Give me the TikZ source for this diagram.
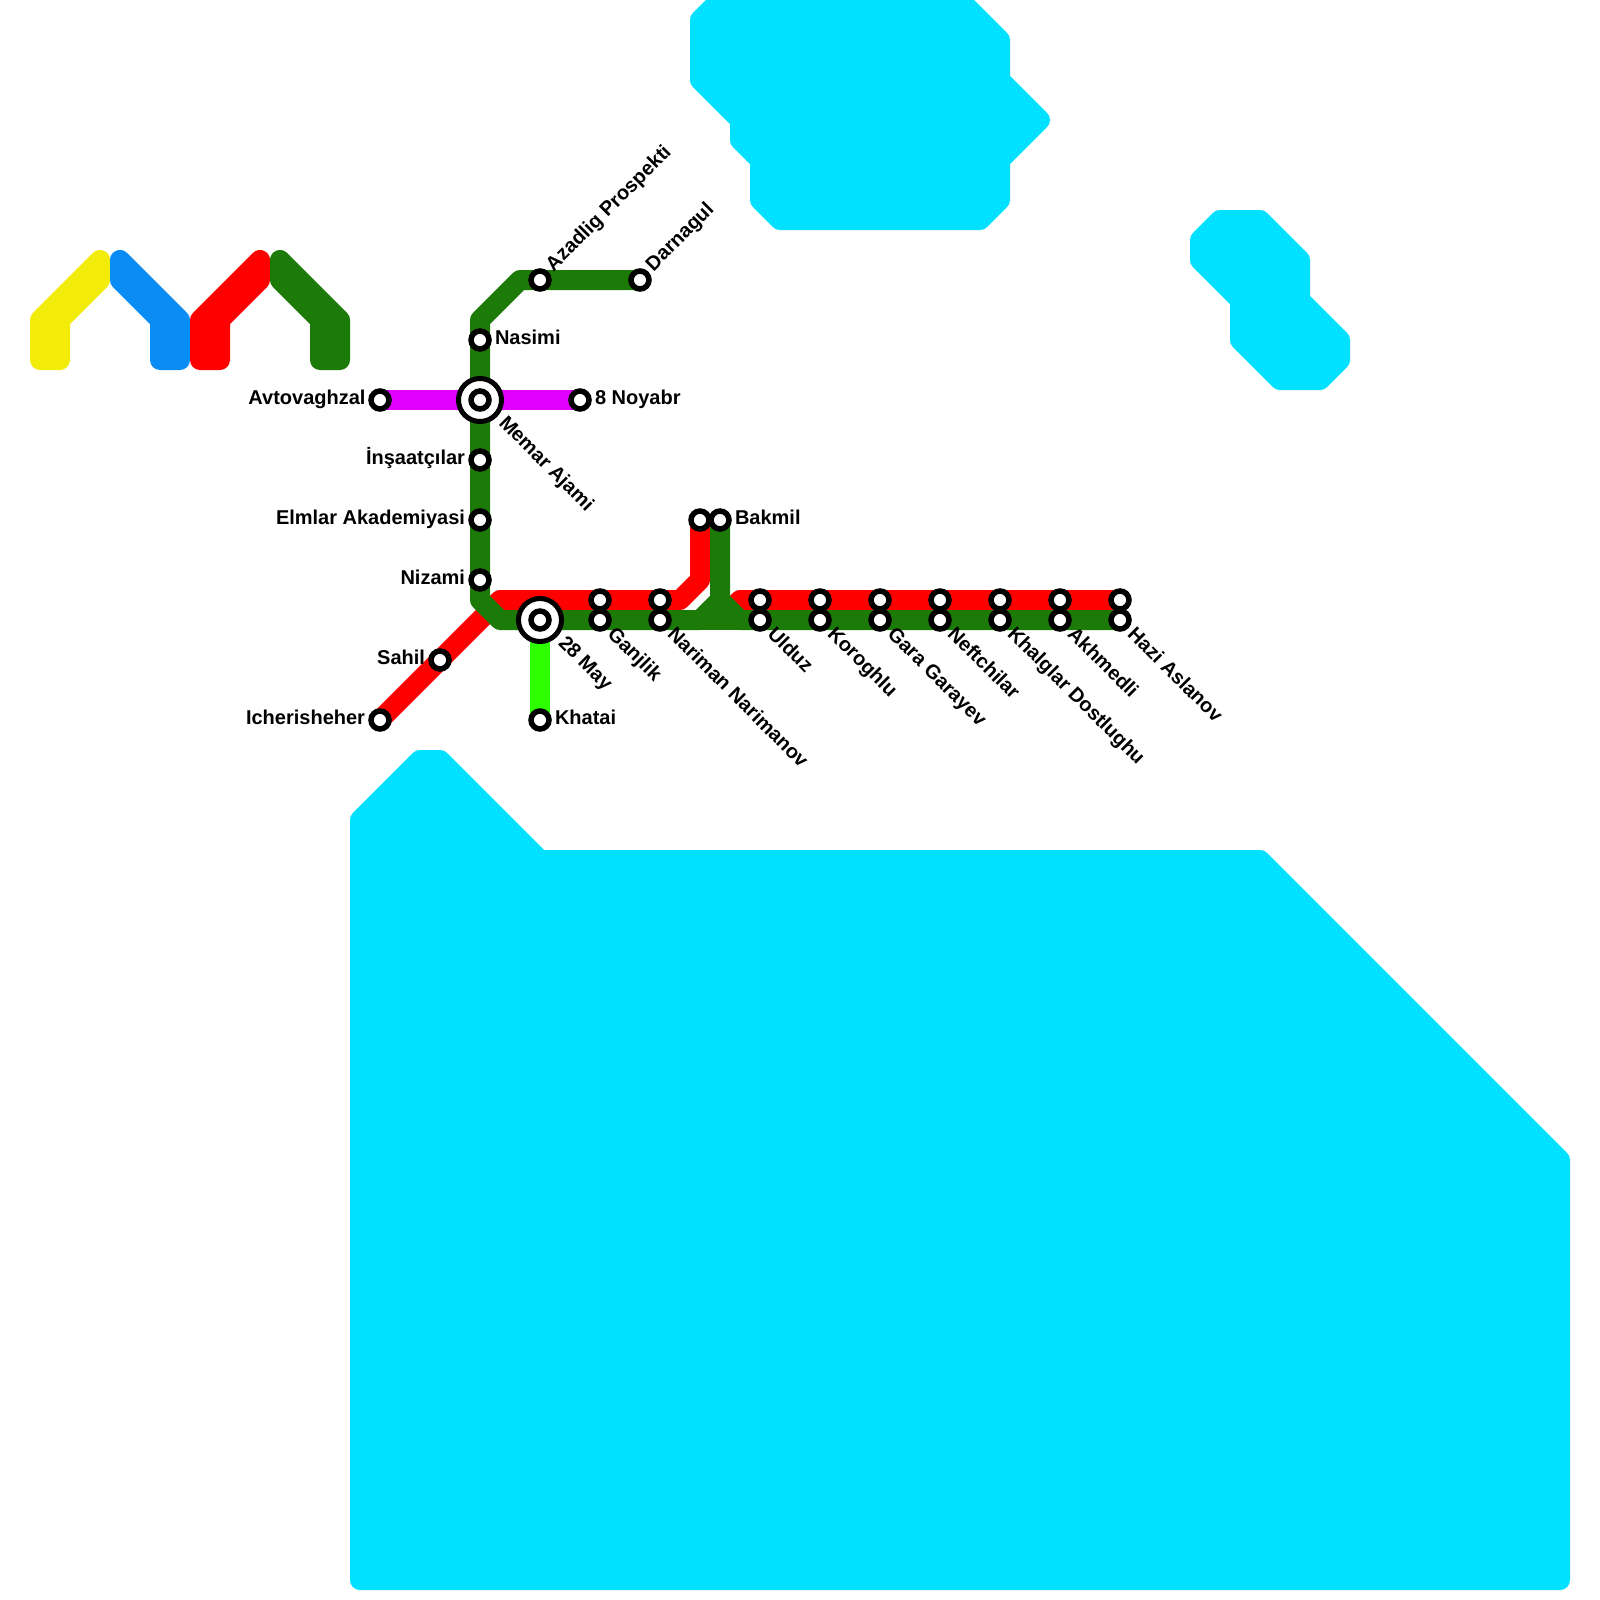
\documentclass[tikz,border=0pt]{standalone}
\usepackage{fontspec}
\setmainfont{Liberation Sans}
\definecolor{lkyellow}{HTML}{F3EC08}
\definecolor{lkblue}{HTML}{0A8CF5}
\definecolor{lkred}{HTML}{FF0000}
\definecolor{lkgreen}{HTML}{1C7A08}
\definecolor{lkwater}{HTML}{00E1FF}
\definecolor{lkpurple}{HTML}{E100FF}
\definecolor{lklime}{HTML}{2DFF00}
\pgfdeclarelayer{waterlayer}
\pgfdeclarelayer{linelayer}
\pgfsetlayers{waterlayer,linelayer,main}
\tikzset{
  x=1pt,y=-1pt,
  water/.style={draw=lkwater,fill=lkwater,line width=20pt,line join=round},
  logo/.style={line width=20pt,line join=round},
  metro/.style={line width=20pt,line join=round},
  stn/.style={circle,draw=black,fill=white,line width=5.5pt,minimum size=18pt,inner sep=0pt,outer sep=0pt},
  hub/.style={circle,draw=black,fill=white,line width=5pt,minimum size=43pt,inner sep=0pt,outer sep=0pt},
  lbl/.style={font=\bfseries\fontsize{20}{22}\selectfont,text=black,inner sep=0pt,outer sep=0pt},
  lblL/.style={lbl,anchor=base east},
  lblR/.style={lbl,anchor=base west},
  lblU/.style={lbl,anchor=base west,rotate=45},
  lblD/.style={lbl,anchor=base west,rotate=-45},
}
\begin{document}
\begin{tikzpicture}
\useasboundingbox (0,0) rectangle (1600,1600);

% interchange rings
\node[hub] (memarRing) at (480,400) {};
\node[hub] (mayRing) at (540,620) {};

% stations
\node[stn] (avto) at (380,400) {};
\node[stn] (nasimi) at (480,340) {};
\node[stn] (azadlig) at (540,280) {};
\node[stn] (darnagul) at (640,280) {};
\node[stn] (memar) at (480,400) {};
\node[stn] (noyabr) at (580,400) {};
\node[stn] (insaat) at (480,460) {};
\node[stn] (elmlar) at (480,520) {};
\node[stn] (nizami) at (480,580) {};
\node[stn] (sahil) at (440,660) {};
\node[stn] (icheri) at (380,720) {};
\node[stn] (may) at (540,620) {};
\node[stn] (khatai) at (540,720) {};
\node[stn] (bakR) at (700,520) {};
\node[stn] (bakG) at (720,520) {};
\foreach \n/\x in {ganjlik/600,nariman/660,ulduz/760,koroglu/820,gara/880,neft/940,khalg/1000,akhm/1060,hazi/1120}{
  \node[stn] (\n R) at (\x,600) {};
  \node[stn] (\n G) at (\x,620) {};
}

% labels
\node[lblL] (tAvto) at (365.5,404.5) {Avtovaghzal};
\node[lblR] (tNasimi) at (495,344.5) {Nasimi};
\node[lblR] (tNoyabr) at (595,404.5) {8 Noyabr};
\node[lblL] (tInsaat) at (465,464.5) {İnşaatçılar};
\node[lblL] (tElmlar) at (465,524.5) {Elmlar Akademiyasi};
\node[lblL] (tNizami) at (465,584.5) {Nizami};
\node[lblL] (tSahil) at (425,664.5) {Sahil};
\node[lblL] (tIcheri) at (365,724.5) {Icherisheher};
\node[lblR] (tKhatai) at (555,724.5) {Khatai};
\node[lblR] (tBakmil) at (735,524.5) {Bakmil};
\node[lblU] (tAzadlig) at (553.5,272) {Azadlig Prospekti};
\node[lblU] (tDarnagul) at (653.5,272) {Darnagul};
\node[lblD] (tMemar) at (498,424) {Memar Ajami};
\node[lblD] (tMay) at (557.5,644) {28 May};
\foreach \n/\x/\t in {ganjlik/600/Ganjlik,nariman/660/Nariman Narimanov,ulduz/760/Ulduz,koroglu/820/Koroghlu,gara/880/Gara Garayev,neft/940/Neftchilar,khalg/1000/Khalglar Dostlughu,akhm/1060/Akhmedli,hazi/1120/Hazi Aslanov}{
  \node[lblD] (t\n) at (\x+6.7,635) {\t};
}

% lines
\begin{pgfonlayer}{linelayer}
  \draw[metro,lkpurple] (avto.center) -- (memar.center) -- (noyabr.center);
  \draw[metro,lklime] (may.center) -- (khatai.center);
  \draw[metro,lkred] (icheri.center) -- (sahil.center) -- (500,600) -- (680,600) -- (700,580) -- (bakR.center);
  \draw[metro,lkred] (haziR.center) -- (740,600) -- (720,620);
  \draw[metro,lkgreen] (darnagul.center) -- (azadlig.center) -- (520,280) -- (480,320) -- (nasimi.center) -- (memar.center) -- (insaat.center) -- (elmlar.center) -- (nizami.center) -- (480,600) -- (500,620) -- (may.center) -- (700,620) -- (720,600) -- (bakG.center);
  \draw[metro,lkgreen] (720,600) -- (740,620) -- (haziG.center);
  \draw[metro,lkgreen] (700,620) -- (740,620);
\end{pgfonlayer}

% logo and water
\begin{pgfonlayer}{waterlayer}
  \fill[white] (0,0) rectangle (1600,1600);
  \begin{scope}
    \clip (0,0) rectangle (1600,1600);
    \draw[water] (700,20) -- (720,0) -- (960,0) -- (1000,40) -- (1000,80) -- (1040,120) -- (1000,160) -- (1000,200) -- (980,220) -- (780,220) -- (760,200) -- (760,160) -- (740,140) -- (740,120) -- (700,80) -- cycle;
    \draw[water] (1200,240) -- (1220,220) -- (1260,220) -- (1300,260) -- (1300,300) -- (1340,340) -- (1340,360) -- (1320,380) -- (1280,380) -- (1240,340) -- (1240,300) -- (1200,260) -- cycle;
    \draw[water] (360,820) -- (420,760) -- (440,760) -- (540,860) -- (1260,860) -- (1560,1160) -- (1560,1580) -- (360,1580) -- cycle;
  \end{scope}
  \draw[logo,draw=lkyellow,fill=lkyellow] (40,320) -- (100,260) -- (100,280) -- (60,320) -- (60,360) -- (40,360) -- cycle;
  \draw[logo,draw=lkblue,fill=lkblue] (120,260) -- (180,320) -- (180,360) -- (160,360) -- (160,320) -- (120,280) -- cycle;
  \draw[logo,draw=lkred,fill=lkred] (200,320) -- (260,260) -- (260,280) -- (220,320) -- (220,360) -- (200,360) -- cycle;
  \draw[logo,draw=lkgreen,fill=lkgreen] (280,260) -- (340,320) -- (340,360) -- (320,360) -- (320,320) -- (280,280) -- cycle;
\end{pgfonlayer}
\end{tikzpicture}
\end{document}
